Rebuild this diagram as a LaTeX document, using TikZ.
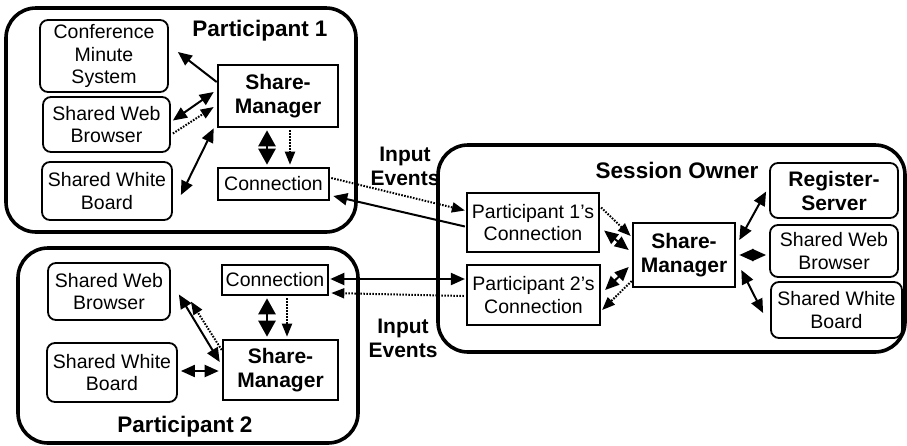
\documentclass[tikz,border=0pt]{standalone}
\usepackage{fontspec}
\setmainfont{Liberation Sans}
\usetikzlibrary{arrows.meta,calc}

\tikzset{
  txt/.style={font=\fontsize{19.5}{22.5}\selectfont, align=center, inner sep=0pt},
  bld/.style={font=\fontsize{21}{24}\selectfont\bfseries, align=center, inner sep=0pt},
  ttl/.style={font=\fontsize{22.5}{26}\selectfont\bfseries, align=center, inner sep=0pt},
  appbox/.style={txt, draw, line width=1.8pt, rounded corners=8pt},
  appboxb/.style={bld, draw, line width=1.8pt, rounded corners=8pt},
  mgrbox/.style={bld, draw, line width=2.6pt},
  connbox/.style={txt, draw, line width=2.6pt},
  pconnbox/.style={txt, draw, line width=2.2pt},
  group/.style={line width=3.6pt, rounded corners=30pt},
  link/.style={line width=2pt, -{Triangle[length=14pt,width=12pt]}},
  link2/.style={line width=2pt, {Triangle[length=14pt,width=12pt]}-{Triangle[length=14pt,width=12pt]}},
  fat2/.style={line width=2.6pt, {Triangle[length=16pt,width=17pt]}-{Triangle[length=16pt,width=17pt]}},
  dotlink/.style={line width=2pt, dash pattern=on 1.6pt off 1.4pt, -{Triangle[length=13pt,width=10pt]}},
}

\begin{document}
\begin{tikzpicture}[x=1pt,y=-1pt]
\useasboundingbox (0,0) rectangle (907,445);

% group outlines
\draw[group] (6,8) rectangle (356,232);
\draw[group] (18,248) rectangle (358,443);
\draw[group] (438,145) rectangle (905,352);

% titles
\node[ttl] (t1) at (260,31) {Participant 1};
\node[ttl] (t2) at (185,427) {Participant 2};
\node[ttl] (t3) at (677,170) {Session Owner};
\node[bld] (ie1) at (405,166) {Input\\Events};
\node[bld] (ie2) at (403,338) {Input\\Events};

% participant 1
\node[appbox, minimum width=128, minimum height=72] (cms)   at (104,56)    {Conference\\Minute\\System};
\node[appbox, minimum width=127, minimum height=55] (swb1)  at (106.5,124.5) {Shared Web\\Browser};
\node[appbox, minimum width=130, minimum height=58] (swhb1) at (107,191)   {Shared White\\Board};
\node[mgrbox, minimum width=120, minimum height=62] (sm1)   at (278,96)    {Share-\\Manager};
\node[connbox, minimum width=111, minimum height=32] (conn1) at (273.5,184) {Connection};

% participant 2
\node[appbox, minimum width=122, minimum height=57] (swb2)  at (109,291.5) {Shared Web\\Browser};
\node[appbox, minimum width=130, minimum height=59] (swhb2) at (112,372.5) {Shared White\\Board};
\node[connbox, minimum width=106, minimum height=30] (conn2) at (275,280)  {Connection};
\node[mgrbox, minimum width=115, minimum height=60] (sm2)   at (280.5,370) {Share-\\Manager};

% session owner
\node[pconnbox, minimum width=132, minimum height=59] (p1c) at (533,222.5) {Participant 1's\\Connection};
\node[pconnbox, minimum width=133, minimum height=60] (p2c) at (533.5,295) {Participant 2's\\Connection};
\node[mgrbox, minimum width=102, minimum height=64] (sm3)  at (684,255)    {Share-\\Manager};
\node[appboxb, minimum width=128, minimum height=55] (rs)   at (834,190.5) {Register-\\Server};
\node[appbox, minimum width=128, minimum height=52] (swb3)  at (834,251)   {Shared Web\\Browser};
\node[appbox, minimum width=131, minimum height=56] (swhb3) at (836.5,310) {Shared White\\Board};

% participant 1 connectors
\draw[link]  ($(sm1.west)+(0,-14)$) -- ($(cms.east)+(9,-4)$);
\draw[link2] ($(swb1.east)+(2,-4)$) -- ($(sm1.west)+(-3,-4)$);
\draw[dotlink] ($(swb1.east)+(2,9)$) -- ($(sm1.west)+(-3,11)$);
\draw[link2] ($(sm1.south west)+(-3,0)$) -- ($(swhb1.east)+(8,4)$);
\draw[fat2]  ($(sm1.south)+(-11,2)$) -- ($(conn1.north)+(-6.5,-2)$);
\draw[dotlink] ($(sm1.south)+(12,2)$) -- ($(conn1.north)+(16.5,-2)$);
\draw[dotlink] ($(conn1.east)+(1,-6)$) -- ($(p1c.west)+(-1,-12)$);
\draw[link]  ($(p1c.west)+(-1,4)$) -- ($(conn1.east)+(3,12)$);

% participant 2 connectors
\draw[link2] ($(conn2.east)+(1,-1)$) -- ($(p2c.west)+(-1,-16)$);
\draw[dotlink] ($(p2c.west)+(-2,1)$) -- ($(conn2.east)+(2,13)$);
\draw[fat2]  ($(conn2.south)+(-8,2)$) -- ($(sm2.north)+(-13.5,-2)$);
\draw[dotlink] ($(conn2.south)+(12,2)$) -- ($(sm2.north)+(6.5,-2)$);
\draw[link2] ($(sm2.west)+(-2,-8)$) -- ($(swb2.east)+(8,3)$);
\draw[dotlink] ($(sm2.west)+(0,-20)$) -- ($(swb2.east)+(20,10)$);
\draw[link2] ($(swhb2.east)+(3,-1.5)$) -- ($(sm2.west)+(-3,1)$);

% session owner connectors
\draw[dotlink] ($(p1c.east)+(1,-15)$) -- ($(sm3.west)+(-1,-19)$);
\draw[link2] ($(p1c.east)+(4,8)$) -- ($(sm3.west)+(-3,-5)$);
\draw[link2] ($(p2c.east)+(4,-5)$) -- ($(sm3.west)+(-3,12)$);
\draw[dotlink] ($(sm3.west)+(0,26)$) -- ($(p2c.east)+(1,15)$);
\draw[link2] ($(sm3.east)+(3,-15)$) -- ($(rs.west)+(-3,1)$);
\draw[link2] ($(sm3.east)+(3,0)$) -- ($(swb3.west)+(-3,4)$);
\draw[link2] ($(sm3.east)+(5,15)$) -- ($(swhb3.west)+(-7,3)$);
\end{tikzpicture}
\end{document}
